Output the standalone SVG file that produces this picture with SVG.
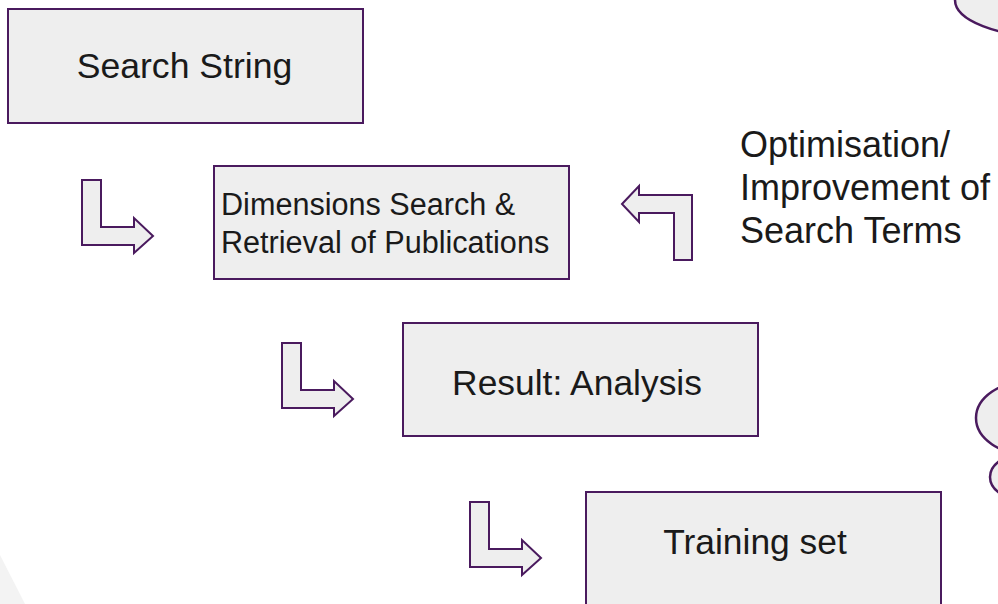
<svg xmlns="http://www.w3.org/2000/svg" width="998" height="604" viewBox="0 0 998 604">
<style>
.box{fill:#eeeeee;stroke:#4a1a5e;stroke-width:2}
.arr{fill:#eeeeee;stroke:#4a1a5e;stroke-width:2;stroke-linejoin:miter}
.blob{fill:#eeeeee;stroke:#4a1a5e;stroke-width:2.5}
.t{font-family:"Liberation Sans",Arial,sans-serif;fill:#1a1a1a}
</style>
<rect width="998" height="604" fill="#ffffff"/>
<polygon points="0,555 25,604 0,604" fill="#f3f3f3"/>
<g id="blobs">
<ellipse class="blob" cx="1050" cy="0" rx="95" ry="37"/>
<ellipse class="blob" cx="1030" cy="418" rx="54" ry="37"/>
<ellipse class="blob" cx="1020" cy="477" rx="30" ry="22"/>
</g>
<g id="node-search-string">
<rect class="box" x="8" y="9" width="355" height="114"/>
<text class="t" x="184.5" y="78" font-size="35.6" text-anchor="middle">Search String</text>
</g>
<g id="node-dimensions">
<rect class="box" x="214" y="166" width="355" height="113"/>
<text class="t" x="221" y="215" font-size="30.6">Dimensions Search &amp;</text>
<text class="t" x="221" y="253" font-size="30.6">Retrieval of Publications</text>
</g>
<g id="node-result">
<rect class="box" x="403" y="323" width="355" height="113"/>
<text class="t" x="577" y="395" font-size="35.4" text-anchor="middle">Result: Analysis</text>
</g>
<g id="node-training">
<rect class="box" x="586" y="492" width="355" height="120"/>
<text class="t" x="755" y="554" font-size="35.4" text-anchor="middle">Training set</text>
</g>
<g id="node-optimisation">
<text class="t" x="740" y="157" font-size="36">Optimisation/</text>
<text class="t" x="740" y="200" font-size="36">Improvement of</text>
<text class="t" x="740" y="243" font-size="36">Search Terms</text>
</g>
<g id="connectors">
<path id="arrow1" class="arr" d="M82,180 H101 V227 H134 V218 L153,236 L134,253 V245 H82 Z"/>
<path id="arrow2" class="arr" transform="translate(200,163)" d="M82,180 H101 V227 H134 V218 L153,236 L134,253 V245 H82 Z"/>
<path id="arrow3" class="arr" transform="translate(388,322)" d="M82,180 H101 V227 H134 V218 L153,236 L134,253 V245 H82 Z"/>
<path id="arrow-back" class="arr" d="M622,204 L639,186 V195 H692 V260 H674 V213 H639 V222 Z"/>
</g>
</svg>
